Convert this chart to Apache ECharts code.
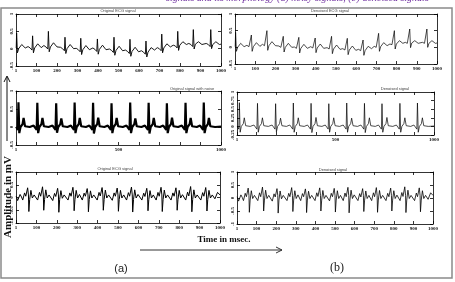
<!DOCTYPE html>
<html>
<head>
<meta charset="utf-8">
<script src="https://cdn.jsdelivr.net/npm/echarts@6/dist/echarts.min.js"></script>
<style>
html, body { margin: 0; padding: 0; background: #fff; }
#ecg { width: 455px; height: 282px; }
</style>
</head>
<body>
<div id="ecg"></div>
<script>
// time in msec (1..1000), amplitude in mV
var topSignal = [
  [1,0.02],[3,0.45],[7,-0.12],[13,0.0],[28,0.12],[45,0.02],
  [59,0.06],[69,0.02],[78,-0.04],[81,0.37],[85,-0.12],[91,0.02],[106,0.14],[123,0.03],
  [136,0.09],[146,0.05],[155,-0.01],[158,0.5],[162,-0.09],[168,0.05],[183,0.17],[200,0.05],
  [217,0.04],[227,0.0],[236,-0.06],[239,0.33],[243,-0.14],[249,0.0],[264,0.12],[281,0.0],
  [294,0.01],[304,-0.03],[313,-0.09],[316,0.3],[320,-0.17],[326,-0.03],[341,0.09],[358,-0.03],
  [375,0.02],[385,-0.02],[394,-0.08],[397,0.28],[401,-0.16],[407,-0.02],[422,0.1],[439,-0.03],
  [456,-0.01],[466,-0.05],[475,-0.11],[478,0.33],[482,-0.19],[488,-0.05],[503,0.07],[520,-0.06],
  [534,-0.04],[544,-0.08],[553,-0.14],[556,0.27],[560,-0.22],[566,-0.08],[581,0.04],[598,-0.09],
  [612,-0.06],[622,-0.1],[631,-0.16],[634,0.22],[638,-0.24],[644,-0.1],[659,0.03],[676,-0.04],
  [689,0.03],[699,0.0],[708,-0.06],[711,0.42],[715,-0.12],[721,0.02],[736,0.14],[753,0.05],
  [767,0.1],[777,0.08],[786,0.02],[789,0.5],[793,-0.05],[799,0.1],[814,0.2],[831,0.12],
  [843,0.15],[853,0.12],[862,0.06],[865,0.55],[869,-0.01],[875,0.13],[890,0.2],[907,0.12],
  [928,0.15],[938,0.12],[947,0.06],[950,0.55],[954,0.0],[960,0.12],[975,0.2],[992,0.12],[1000,0.13]
];

var midSignal = [
  [1,0.01],[3,-0.02],[9,-0.08],[12,0.69],[16,-0.17],[22,0],[32,0.08],[37,0.25],[44,0.02],[67,0],
  [86,0.04],[92,0],[101,-0.08],[104,0.67],[108,-0.17],[114,0],[124,0.08],[129,0.25],[136,0.02],[159,0],
  [178,0.04],[184,0],[193,-0.08],[196,0.66],[200,-0.16],[206,0],[216,0.08],[221,0.24],[228,0.02],[251,0],
  [268,0.04],[274,0],[283,-0.08],[286,0.68],[290,-0.17],[296,0],[306,0.08],[311,0.25],[318,0.02],[341,0],
  [358,0.04],[364,0],[373,-0.08],[376,0.67],[380,-0.18],[386,0],[396,0.08],[401,0.26],[408,0.02],[431,0],
  [448,0.04],[454,0],[463,-0.08],[466,0.66],[470,-0.17],[476,0],[486,0.08],[491,0.25],[498,0.02],[521,0],
  [539,0.04],[545,0],[554,-0.08],[557,0.68],[561,-0.17],[567,0],[577,0.08],[582,0.24],[589,0.02],[612,0],
  [629,0.04],[635,0],[644,-0.08],[647,0.67],[651,-0.18],[657,0],[667,0.08],[672,0.25],[679,0.02],[702,0],
  [718,0.04],[724,0],[733,-0.08],[736,0.66],[740,-0.17],[746,0],[756,0.08],[761,0.26],[768,0.02],[791,0],
  [809,0.04],[815,0],[824,-0.08],[827,0.67],[831,-0.17],[837,0],[847,0.08],[852,0.25],[859,0.02],[882,0],
  [898,0.04],[904,0],[913,-0.08],[916,0.68],[920,-0.17],[926,0],[936,0.08],[941,0.25],[948,0.02],[971,0],
  [1000,0.01]
];

var lowSignal = [
  [1,0.05],[8,-0.12],[20,0.12],[27,0.02],
  [33,-0.1],[42,0.18],[48,0.05],[57,0.38],[61,0.1],[63,-0.55],[67,-0.08],[73,0.28],[80,-0.02],[89,0.1],
  [106,-0.1],[115,0.2],[121,0.05],[130,0.42],[134,0.1],[136,-0.5],[140,-0.08],[146,0.3],[153,-0.02],[162,0.1],
  [180,-0.12],[189,0.16],[195,0.04],[204,0.36],[208,0.1],[210,-0.58],[214,-0.08],[220,0.27],[227,-0.03],[236,0.1],
  [255,-0.1],[264,0.18],[270,0.05],[279,0.4],[283,0.1],[285,-0.52],[289,-0.08],[295,0.28],[302,-0.02],[311,0.12],
  [325,-0.1],[334,0.17],[340,0.05],[349,0.35],[353,0.1],[355,-0.56],[359,-0.08],[365,0.26],[372,-0.02],[381,0.1],
  [398,-0.1],[407,0.2],[413,0.06],[422,0.39],[426,0.1],[428,-0.5],[432,-0.08],[438,0.29],[445,-0.02],[454,0.1],
  [472,-0.11],[481,0.18],[487,0.05],[496,0.37],[500,0.1],[502,-0.54],[506,-0.08],[512,0.28],[519,-0.02],[528,0.1],
  [542,-0.1],[551,0.19],[557,0.05],[566,0.41],[570,0.1],[572,-0.57],[576,-0.08],[582,0.3],[589,-0.02],[598,0.12],
  [617,-0.1],[626,0.17],[632,0.04],[641,0.36],[645,0.1],[647,-0.52],[651,-0.08],[657,0.27],[664,-0.02],[673,0.1],
  [687,-0.1],[696,0.2],[702,0.05],[711,0.4],[715,0.1],[717,-0.55],[721,-0.08],[727,0.29],[734,-0.02],[743,0.1],
  [760,-0.1],[769,0.18],[775,0.05],[784,0.38],[788,0.1],[790,-0.5],[794,-0.08],[800,0.28],[807,-0.02],[816,0.11],
  [832,-0.1],[841,0.21],[847,0.06],[856,0.43],[860,0.1],[862,-0.56],[866,-0.08],[872,0.3],[879,-0.02],[888,0.1],
  [906,-0.1],[915,0.19],[921,0.05],[930,0.39],[934,0.1],[936,-0.53],[940,-0.08],[946,0.28],[953,-0.02],[962,0.1],
  [975,-0.05],[988,0.2],[1000,0.1]
];

var panelTitles = [
  'Original ECG signal', 'Denoised ECG signal',
  'Original signal with noise', 'Denoised signal',
  'Original ECG signal', 'Denoised signal'
];

var panels = [
  { box: [16, 14, 205, 52], data: topSignal, yMin: -0.5, yMax: 1, yStep: 0.5, every: 100, lw: 0.9, title: [118, 11] },
  { box: [235, 14, 202, 50], data: topSignal, yMin: -0.5, yMax: 1, yStep: 0.5, every: 100, lw: 0.7, title: [330, 11] },
  { box: [16, 91, 205, 54], data: midSignal, yMin: -0.5, yMax: 1, yStep: 0.5, every: 500, lw: 2.2, title: [192, 89] },
  { box: [237, 92, 197, 43], data: midSignal, yMin: -0.25, yMax: 1, yStep: 0.25, every: 500, lw: 0.7, title: [395, 89] },
  { box: [16, 172, 204, 51], data: lowSignal, yMin: -1, yMax: 1, yStep: 0.5, every: 100, lw: 1, title: [115, 169] },
  { box: [237, 172, 196, 52], data: lowSignal, yMin: -1, yMax: 1, yStep: 0.5, every: 100, lw: 0.8, title: [333, 170] }
];

var chart = echarts.init(document.getElementById('ecg'));
var grids = [], xAxes = [], yAxes = [], series = [], graphics = [];
var tickFont = { fontSize: 5, color: '#111', fontFamily: 'Liberation Serif', fontWeight: 'bold' };
var axisLn = { onZero: false, lineStyle: { color: '#000', width: 0.8 } };
var tick = { inside: true, length: 3, lineStyle: { color: '#000', width: 0.8 } };

panels.forEach(function (p, i) {
  grids.push({ left: p.box[0], top: p.box[1], width: p.box[2], height: p.box[3], outerBoundsMode: 'none' });
  xAxes.push({
    type: 'value', gridIndex: i, position: 'bottom', min: 0, max: 1000, interval: 100,
    axisLine: axisLn, axisTick: tick, splitLine: { show: false },
    axisLabel: Object.assign({ margin: 2, formatter: function (v) {
      if (v % p.every) return '';
      return v === 0 ? '1' : String(v);
    } }, tickFont)
  });
  xAxes.push({
    type: 'value', gridIndex: i, position: 'top', min: 0, max: 1000, interval: 100,
    axisLine: axisLn, axisTick: tick, splitLine: { show: false }, axisLabel: { show: false }
  });
  yAxes.push({
    type: 'value', gridIndex: i, position: 'left', min: p.yMin, max: p.yMax, interval: p.yStep,
    axisLine: axisLn, axisTick: tick, splitLine: { show: false },
    axisLabel: Object.assign({ margin: 2, rotate: 90 }, tickFont)
  });
  yAxes.push({
    type: 'value', gridIndex: i, position: 'right', min: p.yMin, max: p.yMax, interval: p.yStep,
    axisLine: axisLn, axisTick: tick, splitLine: { show: false }, axisLabel: { show: false }
  });
  series.push({
    type: 'line', xAxisIndex: 2 * i, yAxisIndex: 2 * i, data: p.data,
    showSymbol: false, silent: true,
    lineStyle: { color: '#000', width: p.lw }
  });
  graphics.push({
    type: 'text', x: p.title[0], y: p.title[1],
    style: { text: panelTitles[i], fontSize: 4, fill: '#444', align: 'center', verticalAlign: 'middle', fontFamily: 'Liberation Sans' }
  });
});

// frame, arrows and labels
graphics.push(
  { type: 'rect', shape: { x: 1, y: 8, width: 451, height: 270 }, style: { fill: 'none', stroke: '#8a8a8a', lineWidth: 1.5 } },
  { type: 'text', x: 166, y: -2, style: { text: 'signals and its morphology (a) noisy signals, (b) denoised signals', fontSize: 10, fill: '#7030a0', fontFamily: 'Liberation Serif', fontStyle: 'italic', align: 'left', verticalAlign: 'middle' } },
  { type: 'line', shape: { x1: 7, y1: 141, x2: 7, y2: 77 }, style: { stroke: '#111', lineWidth: 1 } },
  { type: 'polyline', shape: { points: [[4, 82], [7, 76], [10, 82]] }, style: { stroke: '#111', fill: 'none', lineWidth: 1 } },
  { type: 'text', x: 8, y: 197, rotation: Math.PI / 2,
    style: { text: 'Amplitude in mV', fontSize: 11, fontWeight: 'bold', fill: '#111', fontFamily: 'Liberation Serif', align: 'center', verticalAlign: 'middle' } },
  { type: 'text', x: 224, y: 240,
    style: { text: 'Time in msec.', fontSize: 9, fontWeight: 'bold', fill: '#111', fontFamily: 'Liberation Serif', align: 'center', verticalAlign: 'middle' } },
  { type: 'line', shape: { x1: 140, y1: 250, x2: 282, y2: 250 }, style: { stroke: '#333', lineWidth: 1 } },
  { type: 'polyline', shape: { points: [[276, 247], [282, 250], [276, 253]] }, style: { stroke: '#333', fill: 'none', lineWidth: 1 } },
  { type: 'text', x: 121, y: 269, style: { text: '(a)', fontSize: 11, fill: '#222', fontFamily: 'Liberation Sans', align: 'center', verticalAlign: 'middle' } },
  { type: 'text', x: 337, y: 268, style: { text: '(b)', fontSize: 12, fill: '#222', fontFamily: 'Liberation Serif', align: 'center', verticalAlign: 'middle' } }
);

chart.setOption({
  backgroundColor: '#fff',
  animation: false,
  grid: grids,
  xAxis: xAxes,
  yAxis: yAxes,
  series: series,
  graphic: graphics
});
</script>
</body>
</html>
